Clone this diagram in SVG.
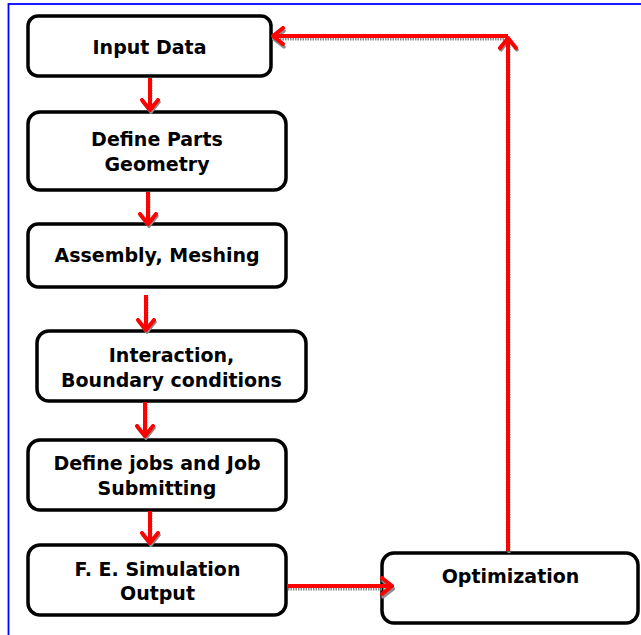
<svg xmlns="http://www.w3.org/2000/svg" width="641" height="635" viewBox="0 0 641 635">
  <style>
    .box { fill: #ffffff; stroke: #000000; stroke-width: 3.5; }
    .lbl { font-family: "DejaVu Sans", "Open Sans", sans-serif; font-weight: bold; font-size: 19px; fill: #000000; text-anchor: middle; }
    .wire { fill: none; stroke: #ff0000; stroke-width: 4; }
    .shade { fill: none; stroke: #8c8c8c; stroke-width: 3; stroke-dasharray: 1.5 1; }
  </style>
  <defs>
    <marker id="head" viewBox="-12 -10 14 20" refX="0" refY="0" markerWidth="14" markerHeight="20" markerUnits="userSpaceOnUse" orient="auto">
      <polyline points="-10,-8 0,0 -10,8" fill="none" stroke="#ff0000" stroke-width="4" stroke-linecap="round" stroke-linejoin="miter"/>
    </marker>
    <marker id="headShade" viewBox="-12 -10 14 20" refX="0" refY="0" markerWidth="14" markerHeight="20" markerUnits="userSpaceOnUse" orient="auto">
      <polyline points="-10,-8 0,0 -10,8" fill="none" stroke="#8c8c8c" stroke-width="3.5" stroke-linecap="round"/>
    </marker>
  </defs>

  <!-- page frame -->
  <rect x="8.5" y="4" width="640" height="640" fill="none" stroke="#0000ff" stroke-width="1.8"/>

  <g id="input-data">
    <rect class="box" x="28" y="16" width="243" height="60" rx="10"/>
    <text class="lbl" x="149.5" y="54">Input Data</text>
  </g>

  <g id="define-parts">
    <rect class="box" x="28" y="112" width="258" height="78" rx="12"/>
    <text class="lbl" x="157" y="146">Define Parts</text>
    <text class="lbl" x="157" y="171">Geometry</text>
  </g>

  <g id="assembly-meshing">
    <rect class="box" x="28" y="224" width="258" height="63" rx="10"/>
    <text class="lbl" x="157" y="262">Assembly, Meshing</text>
  </g>

  <g id="interaction-bc">
    <rect class="box" x="37" y="331" width="269" height="70" rx="12"/>
    <text class="lbl" x="171.5" y="362">Interaction,</text>
    <text class="lbl" x="171.5" y="387">Boundary conditions</text>
  </g>

  <g id="define-jobs">
    <rect class="box" x="28" y="440" width="258" height="70" rx="12"/>
    <text class="lbl" x="157" y="470">Define jobs and Job</text>
    <text class="lbl" x="157" y="495">Submitting</text>
  </g>

  <g id="fe-simulation">
    <rect class="box" x="28" y="545" width="258" height="70" rx="12"/>
    <text class="lbl" x="157.5" y="576">F. E. Simulation</text>
    <text class="lbl" x="157.5" y="600">Output</text>
  </g>

  <g id="optimization">
    <rect class="box" x="382" y="553" width="256" height="70" rx="12"/>
    <text class="lbl" x="510.5" y="583">Optimization</text>
  </g>

  <!-- connectors, drawn last so heads sit over box edges -->
  <g id="connectors">
    <g transform="translate(1,2)">
      <line class="shade" x1="150" y1="78" x2="150" y2="110" marker-end="url(#headShade)"/>
      <line class="shade" x1="148" y1="192" x2="148" y2="224" marker-end="url(#headShade)"/>
      <line class="shade" x1="146" y1="295" x2="146" y2="330" marker-end="url(#headShade)"/>
      <line class="shade" x1="145" y1="402" x2="145" y2="436" marker-end="url(#headShade)"/>
      <line class="shade" x1="150" y1="511" x2="150" y2="543" marker-end="url(#headShade)"/>
      <line class="shade" x1="287" y1="587" x2="392" y2="587" marker-end="url(#headShade)"/>
      <line class="shade" x1="508" y1="551" x2="508" y2="38" marker-end="url(#headShade)"/>
      <line class="shade" x1="508" y1="37" x2="273" y2="37" marker-end="url(#headShade)"/>
    </g>
    <line class="wire" x1="150" y1="78" x2="150" y2="110" marker-end="url(#head)"/>
    <line class="wire" x1="148" y1="192" x2="148" y2="224" marker-end="url(#head)"/>
    <line class="wire" x1="146" y1="295" x2="146" y2="330" marker-end="url(#head)"/>
    <line class="wire" x1="145" y1="402" x2="145" y2="436" marker-end="url(#head)"/>
    <line class="wire" x1="150" y1="511" x2="150" y2="543" marker-end="url(#head)"/>
    <line class="wire" x1="287" y1="586" x2="392" y2="586" marker-end="url(#head)"/>
    <line class="wire" x1="508" y1="551" x2="508" y2="38" marker-end="url(#head)"/>
    <line class="wire" x1="508" y1="36" x2="273" y2="36" marker-end="url(#head)"/>
  </g>
</svg>
